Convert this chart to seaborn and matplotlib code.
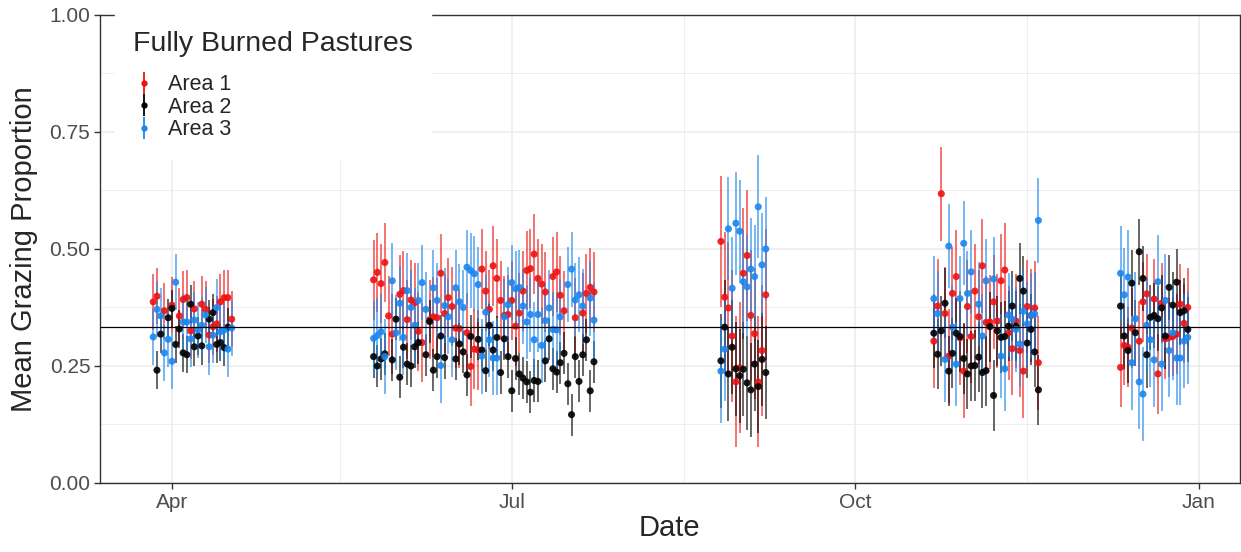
import numpy as np
import pandas as pd
import matplotlib
matplotlib.use("Agg")
import matplotlib.pyplot as plt
from matplotlib.lines import Line2D
import seaborn as sns

# sampling windows (first day of each block of daily values)
window_start = ["2019-03-27", "2019-05-25", "2019-08-26", "2019-10-22", "2019-12-11"]
areas = ["Area 1", "Area 2", "Area 3"]
colors = {"Area 1": "#EE1111", "Area 2": "#000000", "Area 3": "#1C86EE"}

# daily mean grazing proportion per window (None = no point that day)
area1_mean = [
    [0.387, 0.399, None, 0.368, None, 0.380, None, 0.357, 0.392, 0.396, 0.325,
     0.372, None, 0.382, 0.371, 0.316, 0.334, 0.340, 0.387, 0.396, 0.396, 0.350],
    [0.434, 0.450, 0.426, 0.471, 0.357, 0.318, None, 0.403, 0.411, 0.349,
     0.391, 0.385, 0.324, 0.300, None, 0.349, 0.355, 0.353, 0.448, 0.362,
     0.396, 0.377, 0.331, 0.330, None, 0.321, 0.249, 0.286, 0.284, 0.457,
     0.410, 0.371, 0.464, 0.437, 0.390, 0.358, 0.360, 0.390, 0.335, 0.363,
     0.410, 0.454, 0.458, 0.489, 0.437, 0.425, 0.408, None, 0.441, 0.451,
     0.401, 0.368, None, None, 0.353, None, 0.363, 0.405, 0.418, 0.408],
    [0.516, 0.397, 0.374, 0.314, 0.216, 0.246, 0.448, 0.486, 0.358, 0.319,
     0.216, 0.283, 0.402],
    [0.303, 0.378, 0.618, 0.362, 0.271, 0.405, 0.441, 0.310, 0.239, 0.377,
     0.313, 0.410, 0.355, 0.464, 0.343, 0.344, 0.387, 0.346, 0.432, 0.455,
     0.321, 0.287, 0.346, 0.283, 0.239, 0.377, 0.358, 0.374, 0.257],
    [0.247, 0.294, 0.290, 0.331, None, 0.303, 0.387, 0.404, None, 0.393,
     0.233, 0.384, 0.308, 0.311, 0.313, 0.318, 0.382, 0.341, 0.375],
]
area2_mean = [
    [None, 0.241, 0.318, None, 0.353, 0.373, 0.296, 0.329, 0.278, 0.274, 0.382,
     0.291, 0.314, 0.293, None, 0.350, 0.364, 0.296, 0.300, 0.289, 0.333, None],
    [0.270, 0.250, 0.265, 0.276, None, 0.263, 0.350, 0.226, 0.290, 0.254,
     0.250, 0.291, 0.300, None, 0.274, 0.345, 0.241, 0.270, 0.314, 0.268,
     None, None, 0.265, 0.297, 0.280, 0.231, 0.313, None, 0.307, 0.284,
     0.240, 0.337, 0.284, 0.311, 0.236, 0.308, 0.270, 0.197, 0.266, 0.233,
     0.224, 0.216, 0.194, 0.219, 0.217, None, 0.261, 0.308, 0.244, 0.237,
     0.257, 0.277, 0.212, 0.146, 0.270, 0.217, 0.274, 0.306, 0.197, 0.259],
    [0.261, 0.333, 0.233, 0.290, 0.244, 0.229, 0.243, 0.214, 0.199, 0.254,
     0.206, 0.264, 0.236],
    [0.320, 0.275, 0.325, 0.384, 0.239, 0.277, 0.320, 0.313, 0.266, 0.233,
     0.250, 0.251, 0.269, 0.236, 0.240, 0.334, 0.187, 0.325, 0.311, 0.313,
     0.335, 0.378, 0.335, 0.437, 0.410, 0.299, 0.328, 0.280, 0.199],
    [0.378, 0.314, 0.283, 0.427, 0.321, 0.494, 0.437, 0.274, 0.354, 0.358,
     0.351, 0.374, 0.314, 0.418, 0.380, 0.429, 0.364, 0.368, 0.328],
]
area3_mean = [
    [0.312, 0.371, 0.357, 0.278, 0.307, 0.260, 0.429, None, 0.344, 0.344, 0.308,
     0.348, 0.327, 0.337, 0.359, 0.291, 0.316, 0.375, 0.323, 0.327, 0.286, 0.331],
    [0.309, 0.315, 0.323, 0.270, None, 0.432, 0.321, 0.384, 0.311, 0.411,
     0.375, 0.337, 0.390, 0.428, 0.371, None, 0.417, 0.390, 0.251, 0.379,
     0.355, 0.306, 0.417, 0.387, 0.375, 0.461, 0.454, 0.447, 0.424, 0.271,
     0.365, 0.306, 0.267, 0.267, None, 0.355, 0.381, 0.428, 0.415, 0.418,
     0.378, 0.344, 0.360, 0.306, 0.360, 0.294, 0.347, 0.374, 0.328, 0.327,
     0.355, None, 0.424, 0.457, 0.391, 0.402, 0.378, None, 0.395, 0.348],
    [0.239, 0.286, 0.543, 0.416, 0.555, 0.538, 0.430, 0.419, 0.457, 0.441,
     0.590, 0.466, 0.500],
    [0.394, 0.362, None, 0.264, 0.506, 0.333, 0.254, 0.394, 0.512, 0.405,
     0.451, None, 0.382, 0.314, 0.432, None, 0.436, None, 0.271, 0.244,
     0.359, 0.350, 0.328, 0.297, 0.367, 0.340, 0.358, 0.361, 0.561],
    [0.448, 0.402, 0.440, 0.257, 0.351, 0.216, 0.190, 0.337, 0.306, 0.263,
     0.430, 0.254, 0.390, 0.283, 0.321, 0.267, 0.267, 0.303, 0.311],
]

# typical half-length of the error bars in each window
area1_se = [0.060, 0.085, 0.140, 0.100, 0.085]
area2_se = [0.040, 0.045, 0.100, 0.075, 0.070]
area3_se = [0.060, 0.080, 0.110, 0.090, 0.100]

rows = []
for area, means, ses in zip(areas, [area1_mean, area2_mean, area3_mean],
                            [area1_se, area2_se, area3_se]):
    for start, vals, se in zip(window_start, means, ses):
        days = pd.date_range(start, periods=len(vals), freq="D")
        for d, v in zip(days, vals):
            if v is not None:
                rows.append((area, d, v, se))
df = pd.DataFrame(rows, columns=["area", "date", "mean", "se"])

sns.set_theme(style="whitegrid")
plt.rcParams["font.family"] = ["Liberation Sans", "DejaVu Sans"]

fig, ax = plt.subplots(figsize=(12.41, 5.52), dpi=100)
fig.subplots_adjust(left=0.0806, right=0.999, top=0.973, bottom=0.125)

for area in areas:
    sub = df[df["area"] == area]
    ax.vlines(sub["date"], sub["mean"] - sub["se"], sub["mean"] + sub["se"],
              color=colors[area], alpha=0.6, lw=1.4, zorder=2)
sns.scatterplot(data=df, x="date", y="mean", hue="area", palette=colors,
                s=26, alpha=0.9, edgecolor="none", legend=False, ax=ax, zorder=3)
ax.axhline(1 / 3, color="black", lw=0.9, zorder=4)

ax.set_xlim(pd.Timestamp("2019-03-12 18:00"), pd.Timestamp("2020-01-11 22:00"))
ax.set_ylim(0, 1)
ax.set_xticks(pd.to_datetime(["2019-04-01", "2019-07-01", "2019-10-01", "2020-01-01"]))
ax.set_xticklabels(["Apr", "Jul", "Oct", "Jan"])
ax.set_xticks(pd.to_datetime(["2019-05-16", "2019-08-16", "2019-11-16"]), minor=True)
ax.set_yticks([0, 0.25, 0.5, 0.75, 1.0])
ax.set_yticklabels(["0.00", "0.25", "0.50", "0.75", "1.00"])
ax.set_yticks([0.125, 0.375, 0.625, 0.875], minor=True)

ax.grid(which="major", color="#EBEBEB", lw=1.1)
ax.grid(which="minor", color="#EBEBEB", lw=0.6)
for sp in ax.spines.values():
    sp.set_visible(True)
    sp.set_color("#333333")
    sp.set_linewidth(1.0)
ax.tick_params(which="major", direction="out", length=4, width=1, color="#333333",
               labelsize=15, labelcolor="#4D4D4D", bottom=True, left=True, pad=3)
ax.tick_params(which="minor", length=0)

ax.set_xlabel("Date", fontsize=21, labelpad=2)
ax.set_ylabel("Mean Grazing Proportion", fontsize=21, labelpad=8)

handles = [(Line2D([], [], marker="|", markersize=16, mew=1.3, lw=0, color=colors[a]),
            Line2D([], [], marker="o", markersize=3.5, lw=0, color=colors[a]))
           for a in areas]
leg = ax.legend(handles, areas, title="Fully Burned Pastures", loc="upper left",
                bbox_to_anchor=(0.013, 1.004), borderaxespad=0, frameon=True,
                facecolor="white", edgecolor="white", framealpha=1, fancybox=False,
                fontsize=15.5, title_fontsize=20.5, handlelength=1.0,
                handletextpad=0.63, labelspacing=0.07, borderpad=0.84,
                alignment="left")
leg._legend_box.sep = 12.5
leg.set_zorder(10)

fig.savefig("out.png", dpi=100)
